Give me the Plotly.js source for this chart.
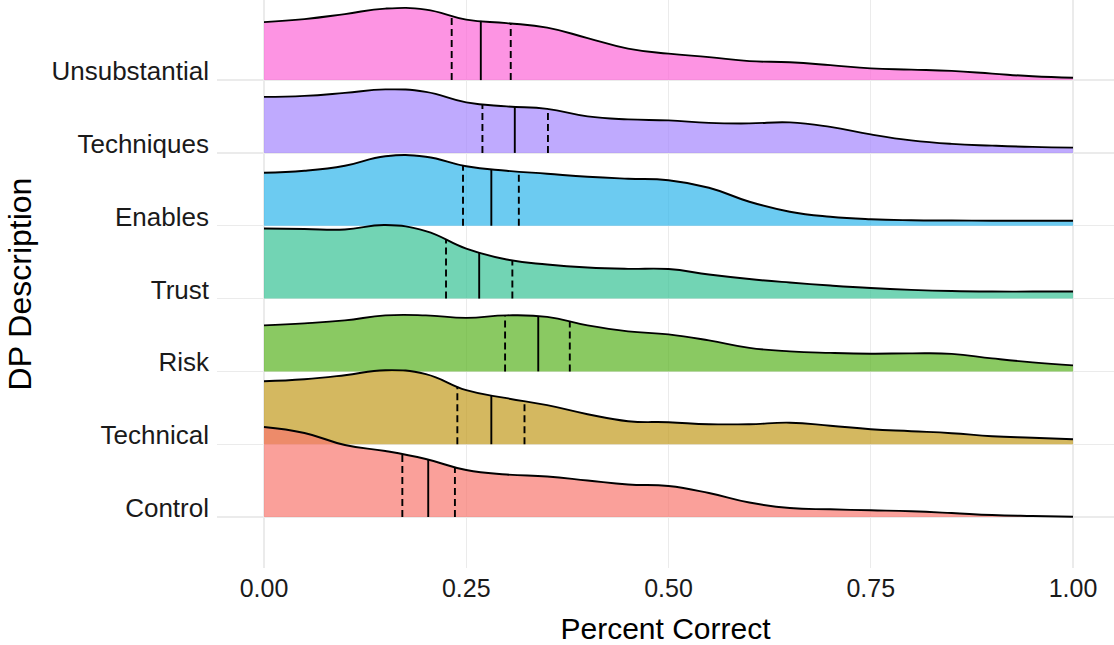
<!DOCTYPE html>
<html>
<head>
<meta charset="utf-8">
<script src="https://cdn.plot.ly/plotly-3.0.1.min.js"></script>
<style>html,body{margin:0;padding:0;background:#fff;}#chart{width:1114px;height:645px;}</style>
</head>
<body>
<div id="chart"></div>
<script>
// ---- data ----
const categories = ['Control', 'Technical', 'Risk', 'Trust', 'Enables', 'Techniques', 'Unsubstantial'];
const xGrid = [0, 0.05, 0.10, 0.15, 0.20, 0.25, 0.30, 0.35, 0.40, 0.45, 0.50, 0.55, 0.60, 0.65, 0.70, 0.75, 0.80, 0.85, 0.90, 0.95, 1.00];
// ridge heights (arbitrary density units, 72.8 = one row)
const densControl       = [90, 84, 72, 66, 58, 47, 42.5, 40.5, 36.5, 32.5, 31, 24, 14.5, 9, 7.7, 6.7, 5.7, 4, 2, 1, 0.3];
const densTechnical     = [63, 65, 69, 74, 70, 54, 46, 39, 30, 23, 22, 20, 20, 21.5, 18.5, 15, 13, 11, 8, 6.5, 5];
const densRisk          = [46, 48, 51, 56, 56, 53.5, 56, 54.5, 46, 40, 37, 31, 23.5, 20, 18.5, 17.7, 18, 17.5, 13, 9, 6];
const densTrust         = [70, 69.5, 69, 73.5, 67.5, 50, 39, 34, 31, 29.7, 29.5, 24, 19.5, 16, 13, 10.5, 8.7, 7.5, 7, 7, 7];
const densEnables       = [53, 55, 60, 69.5, 69, 59.5, 55, 52, 49, 47, 45.5, 38, 24, 14, 9, 6.5, 5.5, 5.2, 5, 5, 5];
const densTechniques    = [56, 57, 60, 63.5, 61, 50.5, 46.5, 44, 36.5, 33.5, 32.5, 30, 29.5, 30.5, 26, 18.5, 12.5, 9, 7.3, 6, 5.3];
const densUnsubstantial = [58, 61, 66, 71.5, 70.5, 60.5, 57, 52.5, 42, 31.5, 26.5, 23, 19, 17.8, 15, 11.7, 10.5, 9.2, 6.5, 3.8, 2.3];
// lower dashed, solid centre, upper dashed
const qControl       = [0.171, 0.203, 0.236];
const qTechnical     = [0.239, 0.281, 0.322];
const qRisk          = [0.298, 0.339, 0.378];
const qTrust         = [0.225, 0.266, 0.307];
const qEnables       = [0.246, 0.281, 0.315];
const qTechniques    = [0.270, 0.310, 0.351];
const qUnsubstantial = [0.232, 0.268, 0.305];
const xTickVals = [0, 0.25, 0.5, 0.75, 1];
const xTickText = ['0.00', '0.25', '0.50', '0.75', '1.00'];

// ---- styling ----
const densities = [densControl, densTechnical, densRisk, densTrust, densEnables, densTechniques, densUnsubstantial];
const quants = [qControl, qTechnical, qRisk, qTrust, qEnables, qTechniques, qUnsubstantial];
const fills = ['rgba(248,119,111,0.7)', 'rgba(194,154,28,0.7)', 'rgba(89,178,31,0.7)', 'rgba(54,194,148,0.7)',
               'rgba(45,181,235,0.7)', 'rgba(164,134,253,0.7)', 'rgba(252,102,215,0.7)'];
const SCALE = 1 / 72.8;
const FONT = 'Liberation Sans, Arial, Helvetica, sans-serif';
const LW = 1.9;

function heightAt(d, x) {
  for (let i = 0; i < xGrid.length - 1; i++) {
    if (x >= xGrid[i] && x <= xGrid[i + 1]) {
      const t = (x - xGrid[i]) / (xGrid[i + 1] - xGrid[i]);
      return d[i] + t * (d[i + 1] - d[i]);
    }
  }
  return d[d.length - 1];
}

const traces = [];
for (let i = categories.length - 1; i >= 0; i--) {
  const base = i + 1;
  const d = densities[i];
  traces.push({
    x: [xGrid[0], xGrid[xGrid.length - 1]], y: [base, base],
    type: 'scatter', mode: 'lines', line: {width: 0, color: 'rgba(0,0,0,0)'},
    hoverinfo: 'skip', showlegend: false
  });
  traces.push({
    x: xGrid, y: d.map(v => base + v * SCALE),
    type: 'scatter', mode: 'lines', fill: 'tonexty', fillcolor: fills[i],
    line: {color: '#000', width: LW, shape: 'spline', smoothing: 1.3},
    hoverinfo: 'skip', showlegend: false, name: categories[i]
  });
  const q = quants[i];
  const dashX = [], dashY = [];
  [q[0], q[2]].forEach(v => { dashX.push(v, v, null); dashY.push(base, base + heightAt(d, v) * SCALE, null); });
  traces.push({
    x: dashX, y: dashY, type: 'scatter', mode: 'lines',
    line: {color: '#000', width: LW, dash: '7px,4px'}, hoverinfo: 'skip', showlegend: false
  });
  traces.push({
    x: [q[1], q[1]], y: [base, base + heightAt(d, q[1]) * SCALE], type: 'scatter', mode: 'lines',
    line: {color: '#000', width: LW}, hoverinfo: 'skip', showlegend: false
  });
}

const layout = {
  width: 1114, height: 645,
  margin: {l: 217, r: 0, t: 0, b: 77, pad: 0},
  paper_bgcolor: '#fff', plot_bgcolor: '#fff',
  showlegend: false,
  font: {family: FONT, color: '#000'},
  xaxis: {
    range: [-0.0581, 1.0507], tickvals: xTickVals, ticktext: xTickText,
    showgrid: true, gridcolor: '#EBEBEB', gridwidth: 1.3, zeroline: false, showline: false, ticks: '',
    tickfont: {family: FONT, size: 25, color: '#1a1a1a'}, ticklabelstandoff: 3,
    title: {text: 'Percent Correct', font: {family: FONT, size: 30, color: '#000'}, standoff: 16},
    automargin: false, fixedrange: true
  },
  yaxis: {
    range: [0.3, 8.1], tickvals: [1, 2, 3, 4, 5, 6, 7], ticktext: categories,
    showgrid: true, gridcolor: '#EBEBEB', gridwidth: 1.3, zeroline: false, showline: false, ticks: '',
    tickfont: {family: FONT, size: 26, color: '#1a1a1a'}, ticklabelstandoff: 7, ticklabelshift: -9,
    title: {text: 'DP Description', font: {family: FONT, size: 32, color: '#000'}, standoff: 10},
    automargin: false, fixedrange: true
  }
};

Plotly.newPlot('chart', traces, layout, {displayModeBar: false, staticPlot: true});
</script>
</body>
</html>
